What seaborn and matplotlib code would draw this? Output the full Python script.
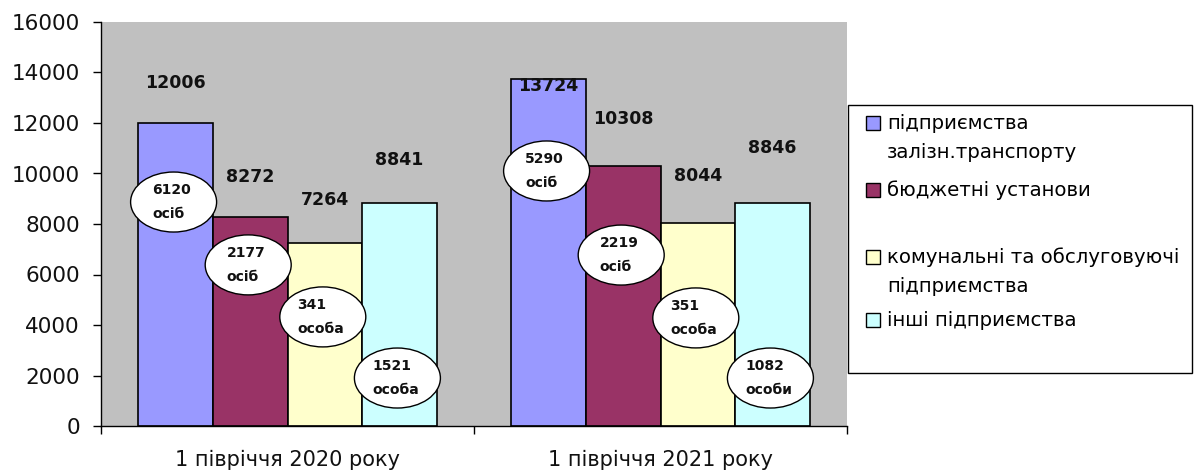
import numpy as np
import pandas as pd
import seaborn as sns
import matplotlib.pyplot as plt
from matplotlib.patches import Ellipse, Rectangle

# data
periods = ['1 півріччя 2020 року', '1 півріччя 2021 року']
groups = ['підприємства\nзалізн.транспорту', 'бюджетні установи',
          'комунальні та обслуговуючі\nпідприємства', 'інші підприємства']
values_2020 = [12006, 8272, 7264, 8841]
values_2021 = [13724, 10308, 8044, 8846]
people_2020 = [6120, 2177, 341, 1521]
people_2021 = [5290, 2219, 351, 1082]
words_2020 = ['осіб', 'осіб', 'особа', 'особа']
words_2021 = ['осіб', 'осіб', 'особа', 'особи']
colors = ['#9999FF', '#993366', '#FFFFCC', '#CCFFFF']

# layout tweaks (data units): where value labels and bubbles sit
label_dy = [[1580, 1590, 1690, 1700], [-250, 1850, 1860, 2160]]
bubble_y = [[8870, 6380, 4320, 1900], [10100, 6770, 4280, 1900]]

df = pd.DataFrame({
    'period': np.repeat(periods, len(groups)),
    'group': groups * len(periods),
    'value': values_2020 + values_2021,
})
people = [people_2020, people_2021]
words = [words_2020, words_2021]

sns.set_style('white')
plt.rcParams['font.family'] = ['DejaVu Sans']

W, H = 1197, 473
fig = plt.figure(figsize=(W / 100, H / 100), dpi=100)
ax = fig.add_axes([101 / W, 47 / H, 746 / W, 404 / H])
ax.set_facecolor('#C0C0C0')

sns.barplot(data=df, x='period', y='value', hue='group', order=periods,
            hue_order=groups, palette=colors, saturation=1, width=0.8,
            edgecolor='black', linewidth=1.2, legend=False, ax=ax)

ax.set_xlim(-0.5, 1.5)
ax.set_ylim(0, 16000)
ax.set_yticks(range(0, 16001, 2000))
ax.set_xlabel('')
ax.set_ylabel('')
sns.despine(ax=ax)
for s in ['left', 'bottom']:
    ax.spines[s].set_color('black')
    ax.spines[s].set_linewidth(1)

ax.tick_params(axis='y', left=True, length=5.8, width=1, color='black',
               pad=9.4, labelsize=15.5, labelcolor='#111111')
ax.tick_params(axis='x', bottom=False, length=0, pad=17.5, labelsize=15,
               labelcolor='#111111')
ax.set_xticks([-0.5, 0.5, 1.5], minor=True)
ax.tick_params(axis='x', which='minor', bottom=True, length=6, width=1,
               color='black')

# pixel -> data conversion for the bubbles
p0 = ax.transData.transform((0, 0))
p1 = ax.transData.transform((1, 1000))
px_x = p1[0] - p0[0]
px_y = (p1[1] - p0[1]) / 1000

for gi, cont in enumerate(ax.containers):
    bars = sorted(cont.patches, key=lambda b: b.get_x())
    for pi, bar in enumerate(bars):
        x = bar.get_x() + bar.get_width() / 2
        h = bar.get_height()
        ax.text(x, h + label_dy[pi][gi], f'{h:.0f}', ha='center', va='center',
                fontsize=12.5, fontweight='bold', color='#111111', zorder=6)
        by = bubble_y[pi][gi]
        ax.add_patch(Ellipse((x - 2 / px_x, by), 86 / px_x, 60 / px_y,
                             facecolor='white', edgecolor='black',
                             linewidth=1, zorder=5))
        ax.text(x - 4 / px_x, by, f'{people[pi][gi]}\n{words[pi][gi]}',
                ha='center', va='center', multialignment='left',
                fontsize=10, fontweight='bold', linespacing=1.95,
                color='#111111', zorder=6)

# legend box drawn like the original (marker next to the first line)
def fx(px):
    return px / W

def fy(py):
    return 1 - py / H

fig.patches.append(Rectangle((fx(848), fy(373)), fx(1192) - fx(848),
                             fy(105) - fy(373), transform=fig.transFigure,
                             facecolor='white', edgecolor='black',
                             linewidth=1))
entry_y = [123, 190, 257, 320]
for col, label, ey in zip(colors, groups, entry_y):
    fig.patches.append(Rectangle((fx(866), fy(ey + 7)), 14 / W, 14 / H,
                                 transform=fig.transFigure, facecolor=col,
                                 edgecolor='black', linewidth=1))
    for k, line in enumerate(label.split('\n')):
        fig.text(fx(887), fy(ey + k * 30), line, ha='left', va='center',
                 fontsize=14.2, color='black')

fig.savefig('out.png', dpi=100)
